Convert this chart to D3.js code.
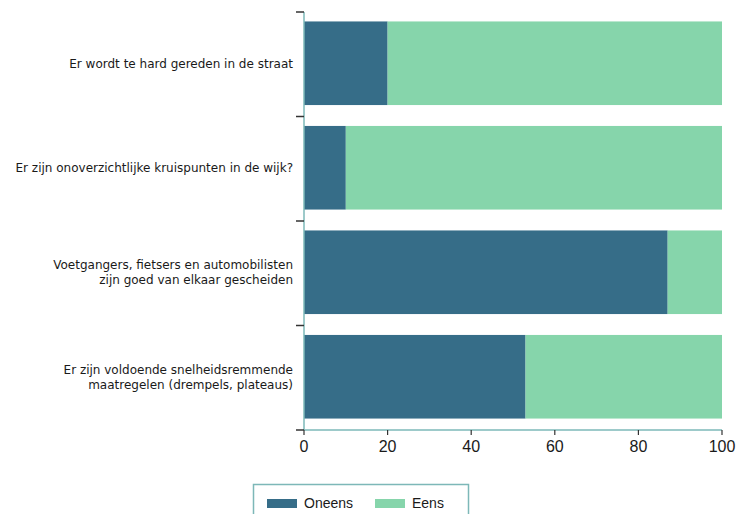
<!DOCTYPE html>
<html>
<head>
<meta charset="utf-8">
<script src="https://cdn.jsdelivr.net/npm/d3@7"></script>
<style>
  body { margin: 0; background: #fff; }
  svg { display: block; }
  text { font-family: "Liberation Sans", Arial, sans-serif; fill: #1a1a1a; }
  .cat { font-family: "DejaVu Sans", sans-serif; }
</style>
</head>
<body>
<svg id="chart" width="739" height="514"></svg>
<script>
const categories = [
  ["Er wordt te hard gereden in de straat"],
  ["Er zijn onoverzichtlijke kruispunten in de wijk?"],
  ["Voetgangers, fietsers en automobilisten", "zijn goed van elkaar gescheiden"],
  ["Er zijn voldoende snelheidsremmende", "maatregelen (drempels, plateaus)"]
];
const oneens = [20, 10, 87, 53];
const eens = [80, 90, 13, 47];
const seriesNames = ["Oneens", "Eens"];
const colors = ["#366d88", "#86d5ab"];
const xTicks = [0, 20, 40, 60, 80, 100];

(function () {
const svg = d3.select("#chart");
const mLeft = 304, mRight = 722, mTop = 12, mBottom = 430;

const x = d3.scaleLinear().domain([0, 100]).range([mLeft, mRight]);
const y = d3.scaleBand().domain(d3.range(categories.length)).range([mTop, mBottom]).paddingInner(0.2).paddingOuter(0.1);

const rows = categories.map((c, i) => ({ i, Oneens: oneens[i], Eens: eens[i] }));
const stack = d3.stack().keys(seriesNames)(rows);

svg.append("g").selectAll("g").data(stack).join("g")
  .attr("fill", (d, k) => colors[k])
  .selectAll("rect").data(d => d).join("rect")
  .attr("x", d => x(d[0]))
  .attr("width", d => x(d[1]) - x(d[0]))
  .attr("y", d => y(d.data.i) - 1)
  .attr("height", y.bandwidth());

svg.append("line").attr("x1", mLeft).attr("x2", mLeft).attr("y1", mTop).attr("y2", mBottom)
  .attr("stroke", "#7db8b8").attr("stroke-width", 1.5);
svg.append("line").attr("x1", mLeft).attr("x2", mRight).attr("y1", mBottom).attr("y2", mBottom)
  .attr("stroke", "#7db8b8").attr("stroke-width", 1.5);

const step = (mBottom - mTop) / categories.length;
const yTickPos = d3.range(categories.length + 1).map(k => mTop + k * step);
svg.append("g").selectAll("line").data(yTickPos).join("line")
  .attr("x1", mLeft - 8).attr("x2", mLeft).attr("y1", d => d).attr("y2", d => d)
  .attr("stroke", "#333").attr("stroke-width", 1.5);

svg.append("g").selectAll("line").data(xTicks).join("line")
  .attr("x1", d => x(d)).attr("x2", d => x(d)).attr("y1", mBottom).attr("y2", mBottom + 5)
  .attr("stroke", "#333").attr("stroke-width", 1.2);
svg.append("g").selectAll("text").data(xTicks).join("text")
  .attr("x", d => x(d)).attr("y", mBottom + 22)
  .attr("text-anchor", "middle").attr("font-size", 16)
  .text(d => d);

const lab = svg.append("g").selectAll("text").data(categories).join("text")
  .attr("class", "cat")
  .attr("text-anchor", "end").attr("font-size", 12)
  .attr("y", (d, i) => y(i) - 1 + y.bandwidth() / 2 - (d.length - 1) * 7.5 + 4.5);
lab.selectAll("tspan").data(d => d).join("tspan")
  .attr("x", 293).attr("dy", (d, j) => j === 0 ? 0 : 15)
  .text(d => d);

const lg = svg.append("g");
lg.append("rect").attr("x", 253.5).attr("y", 484.5).attr("width", 215).attr("height", 40)
  .attr("fill", "none").attr("stroke", "#7db8b8").attr("stroke-width", 1.5);
const legX = [267, 375];
seriesNames.forEach((n, k) => {
  lg.append("rect").attr("x", legX[k]).attr("y", 499).attr("width", 30).attr("height", 9).attr("fill", colors[k]);
  lg.append("text").attr("x", legX[k] + 37).attr("y", 508).attr("font-size", 14).text(n);
});
})();
</script>
</body>
</html>
